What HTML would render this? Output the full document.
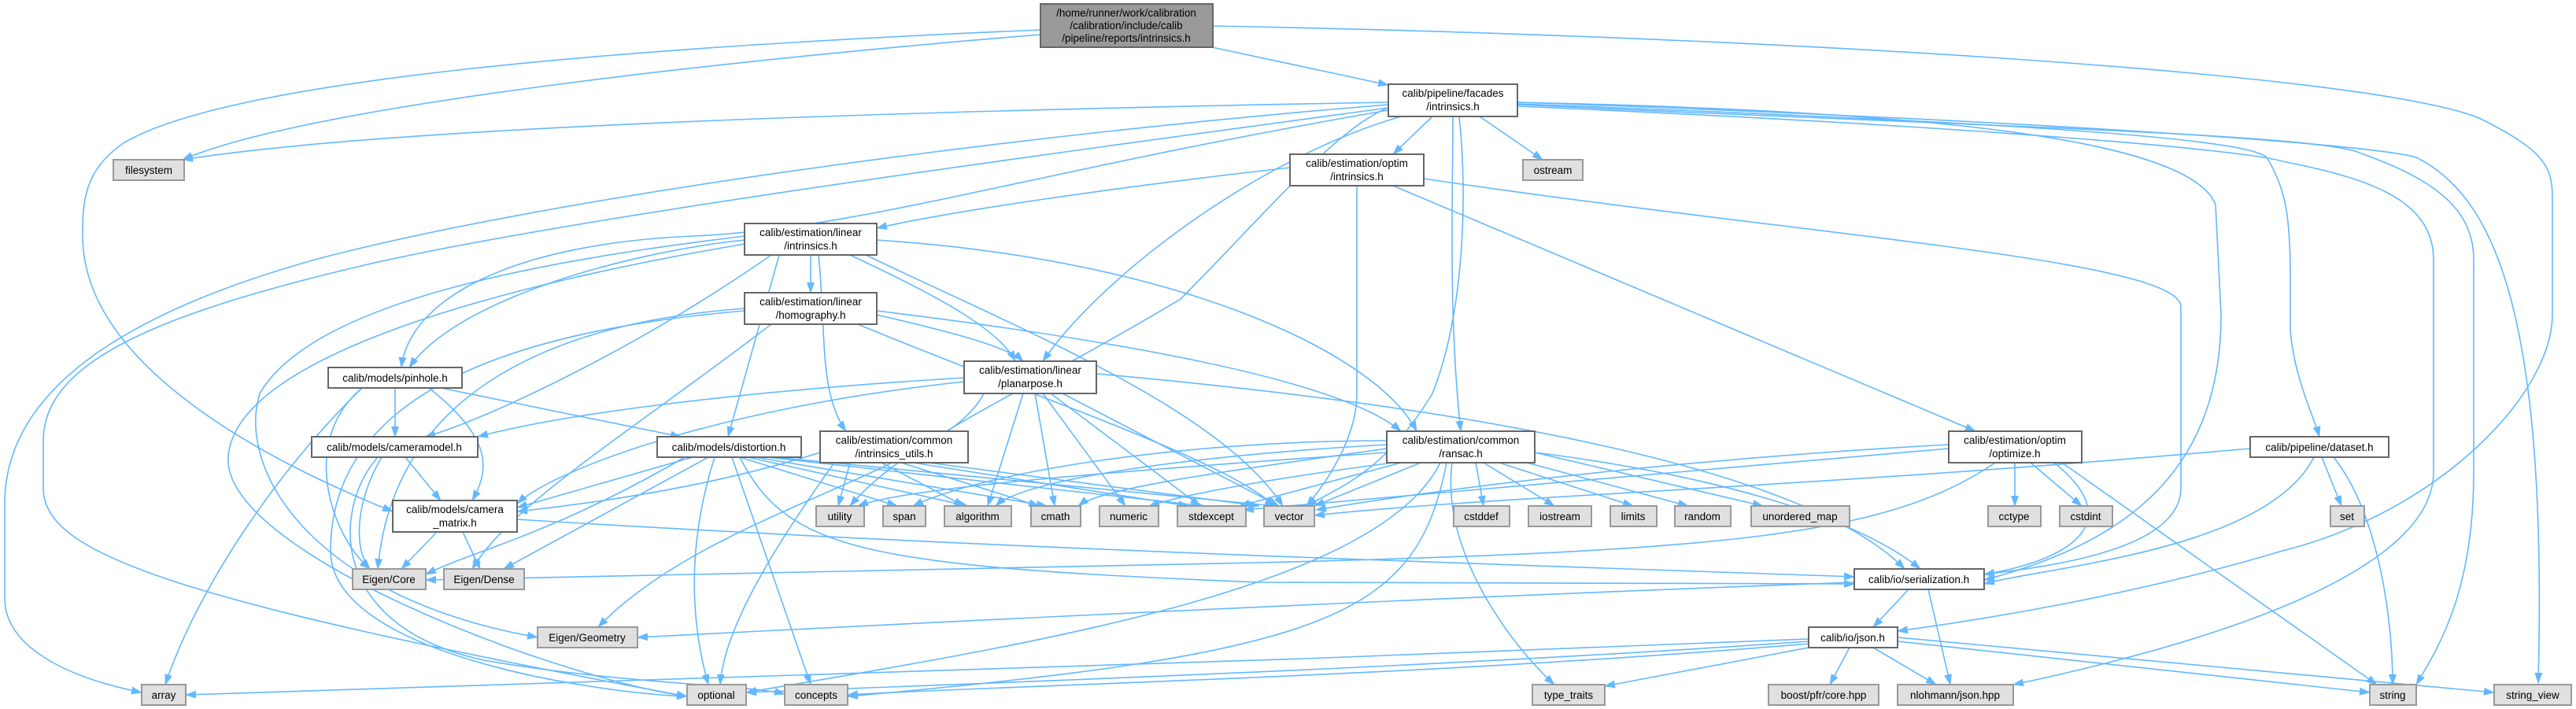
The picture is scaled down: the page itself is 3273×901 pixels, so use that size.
<!DOCTYPE html>
<html><head><meta charset="utf-8"><style>
html,body{margin:0;padding:0;background:#fff;}
svg{display:block;}
text{font-family:"Liberation Sans",sans-serif;font-size:13.5px;fill:#000;text-anchor:middle;}
.e{fill:none;stroke:#63b8ff;stroke-width:1.6;marker-end:url(#a);}
.n{fill:#fff;stroke:#666;stroke-width:2;}
.g{fill:#e0e0e0;stroke:#999;stroke-width:2;}
.r{fill:#999;stroke:#666;stroke-width:2;}
</style></head><body>
<svg width="3273" height="901" viewBox="0 0 3273 901" xmlns="http://www.w3.org/2000/svg">
<defs><marker id="a" markerUnits="userSpaceOnUse" markerWidth="14" markerHeight="10" refX="13" refY="5" orient="auto"><path d="M0,0 L14,5 L0,10 z" fill="#63b8ff"/></marker></defs>
<g>
<!-- root -->
<path class="e" d="M1322,44 C1000,70 400,130 232,203"/>
<path class="e" d="M1322,38 C800,60 300,100 160,180 C105,215 105,260 105,300 C105,450 300,570 499,650"/>
<path class="e" d="M1540,60 L1764,108"/>
<path class="e" d="M1541,33 C2200,45 3000,90 3150,150 C3230,190 3243,210 3243,250 L3243,400 C3243,500 3100,650 2900,700 C2700,760 2500,790 2411,802"/>
<!-- facades -->
<path class="e" d="M1764,130 C1200,140 500,160 232,203"/>
<path class="e" d="M1764,133 C1300,170 700,250 400,330 C150,400 6,500 6,640 L6,760 C6,820 80,860 180,880"/>
<path class="e" d="M1764,137 C1300,200 700,280 450,340 C200,400 55,460 55,560 L55,620 C55,700 200,760 873,885"/>
<path class="e" d="M1764,140 C1300,220 1100,290 880,300 C650,310 520,380 510,467"/>
<path class="e" d="M1780,148 C1600,200 1400,350 1325,459"/>
<path class="e" d="M1846,148 C1846,250 1840,400 1856,548"/>
<path class="e" d="M1854,148 C1865,250 1860,400 1820,500 C1760,600 1700,620 1660,643"/>
<path class="e" d="M1764,137 C1700,160 1600,280 1500,380 C1300,500 1150,560 1080,643"/>
<path class="e" d="M1880,148 L1960,203"/>
<path class="e" d="M1820,148 L1770,196"/>
<path class="e" d="M1928,130 C2400,140 2780,170 2815,260 L2822,400 C2822,600 2700,690 2521,737"/>
<path class="e" d="M1928,132 C2400,150 2850,170 2880,200 C2905,240 2910,280 2910,350 L2910,420 C2915,480 2940,530 2947,555"/>
<path class="e" d="M1928,135 C2500,160 2850,190 2900,205 C3000,225 3092,250 3092,330 L3092,600 C3092,750 2700,840 2558,870"/>
<path class="e" d="M1928,133 C2500,160 2950,170 3000,195 C3100,230 3143,270 3143,330 L3143,600 C3143,750 3100,820 3070,870"/>
<path class="e" d="M1928,130 C2500,150 3000,180 3070,200 C3170,250 3237,400 3225,868"/>
<!-- optim intrinsics -->
<path class="e" d="M1639,213 C1400,240 1200,270 1114,290"/>
<path class="e" d="M1724,236 L1724,500 C1724,560 1680,620 1660,643"/>
<path class="e" d="M1770,236 L2510,548"/>
<path class="e" d="M1809,227 C2300,300 2771,330 2771,390 L2771,620 C2771,700 2600,720 2521,730"/>
<!-- linear intrinsics -->
<path class="e" d="M1030,324 L1030,372"/>
<path class="e" d="M1080,324 C1200,380 1270,420 1290,459"/>
<path class="e" d="M1114,305 C1500,330 1750,450 1800,548"/>
<path class="e" d="M1100,324 C1300,420 1550,520 1630,643"/>
<path class="e" d="M1040,324 C1050,420 1040,500 1075,548"/>
<path class="e" d="M990,324 L925,555"/>
<path class="e" d="M980,324 C800,450 600,540 540,555"/>
<path class="e" d="M946,300 C700,330 400,380 330,500 C300,600 400,760 683,810"/>
<path class="e" d="M946,305 C800,320 580,380 520,467"/>
<path class="e" d="M946,310 C650,360 300,450 290,580 C280,700 700,860 873,885"/>
<!-- homography -->
<path class="e" d="M1114,400 C1200,420 1280,440 1300,459"/>
<path class="e" d="M1114,395 C1400,430 1700,480 1780,548"/>
<path class="e" d="M1090,412 C1300,500 1550,580 1620,643"/>
<path class="e" d="M946,392 C700,410 500,500 480,723"/>
<path class="e" d="M946,395 C650,420 420,500 420,700 C420,830 750,880 873,885"/>
<path class="e" d="M980,412 C800,550 650,640 600,723"/>
<!-- planarpose -->
<path class="e" d="M1225,480 C900,500 700,530 607,555"/>
<path class="e" d="M1225,485 C900,520 700,600 657,640"/>
<path class="e" d="M1250,500 C1200,600 900,650 760,797"/>
<path class="e" d="M1300,500 L1255,643"/>
<path class="e" d="M1315,500 L1340,643"/>
<path class="e" d="M1325,500 L1430,643"/>
<path class="e" d="M1335,500 L1525,643"/>
<path class="e" d="M1350,500 L1625,643"/>
<path class="e" d="M1393,475 C1900,520 2300,600 2420,723"/>
<!-- pinhole -->
<path class="e" d="M502,493 L502,555"/>
<path class="e" d="M545,493 C630,560 620,600 600,636"/>
<path class="e" d="M560,493 L865,555"/>
<path class="e" d="M460,493 C380,560 420,680 470,723"/>
<path class="e" d="M460,493 C350,600 250,750 210,870"/>
<!-- cameramodel -->
<path class="e" d="M515,581 L560,636"/>
<path class="e" d="M485,581 C450,640 450,700 470,723"/>
<path class="e" d="M480,581 C420,650 420,800 620,840 C800,870 950,870 997,882"/>
<!-- camera matrix -->
<path class="e" d="M555,676 L510,723"/>
<path class="e" d="M588,676 L610,723"/>
<path class="e" d="M657,660 C1300,700 2000,720 2356,733"/>
<!-- distortion -->
<path class="e" d="M880,581 L657,645"/>
<path class="e" d="M870,581 C700,680 600,700 541,730"/>
<path class="e" d="M900,581 L640,723"/>
<path class="e" d="M908,581 C870,700 880,800 900,870"/>
<path class="e" d="M930,581 L1030,870"/>
<path class="e" d="M950,581 L1230,643"/>
<path class="e" d="M960,581 L1330,643"/>
<path class="e" d="M975,581 L1530,643"/>
<path class="e" d="M985,581 L1620,643"/>
<path class="e" d="M940,581 L1140,643"/>
<path class="e" d="M940,581 C1000,700 1100,720 1600,740 L2356,742"/>
<!-- intrinsics utils -->
<path class="e" d="M1042,575 C900,620 750,640 657,650"/>
<path class="e" d="M1080,588 L1065,643"/>
<path class="e" d="M1120,588 L1225,643"/>
<path class="e" d="M1145,588 L1320,643"/>
<path class="e" d="M1180,588 L1600,643"/>
<path class="e" d="M1160,588 L1510,643"/>
<path class="e" d="M1060,588 C980,700 920,800 915,870"/>
<!-- ransac -->
<path class="e" d="M1762,560 C1500,560 1250,600 1160,643"/>
<path class="e" d="M1762,565 C1500,580 1300,610 1265,643"/>
<path class="e" d="M1762,570 C1550,600 1400,620 1370,643"/>
<path class="e" d="M1770,588 C1600,610 1500,630 1460,643"/>
<path class="e" d="M1780,588 L1575,643"/>
<path class="e" d="M1805,588 L1670,643"/>
<path class="e" d="M1762,575 C1400,600 1150,620 1090,643"/>
<path class="e" d="M1875,588 L1885,643"/>
<path class="e" d="M1885,588 L1975,643"/>
<path class="e" d="M1905,588 L2075,643"/>
<path class="e" d="M1940,588 L2145,643"/>
<path class="e" d="M1950,575 L2240,643"/>
<path class="e" d="M1845,588 C1830,700 1920,820 1975,870"/>
<path class="e" d="M1830,588 C1750,750 1300,820 948,880"/>
<path class="e" d="M1838,588 C1800,780 1700,830 1077,885"/>
<path class="e" d="M1950,575 C2150,600 2350,650 2440,723"/>
<!-- optimize -->
<path class="e" d="M2476,565 C2200,580 1900,610 1672,648"/>
<path class="e" d="M2476,570 C2100,600 1800,630 1580,648"/>
<path class="e" d="M2560,588 L2560,643"/>
<path class="e" d="M2580,588 L2645,643"/>
<path class="e" d="M2610,588 C2700,660 2640,710 2521,730"/>
<path class="e" d="M2620,588 L3020,870"/>
<path class="e" d="M2535,588 C2400,680 2200,700 1600,715 L541,737"/>
<!-- dataset -->
<path class="e" d="M2859,570 C2300,620 1900,630 1670,655"/>
<path class="e" d="M2940,581 C2880,700 2600,720 2521,742"/>
<path class="e" d="M2950,581 L2975,643"/>
<path class="e" d="M2965,581 C3020,650 3040,780 3040,870"/>
<!-- serialization / json -->
<path class="e" d="M2356,740 C1800,760 1200,790 810,810"/>
<path class="e" d="M2425,749 L2380,797"/>
<path class="e" d="M2450,749 L2478,870"/>
<path class="e" d="M2350,823 L2325,870"/>
<path class="e" d="M2380,823 L2460,870"/>
<path class="e" d="M2411,815 L3011,880"/>
<path class="e" d="M2411,810 L3169,880"/>
<path class="e" d="M2298,812 C1600,840 800,870 236,883"/>
<path class="e" d="M2298,815 C1800,850 1200,870 948,880"/>
<path class="e" d="M2298,818 C1800,860 1300,870 1077,883"/>
<path class="e" d="M2298,823 L2039,872"/>
</g>
<!-- nodes -->
<rect class="r" x="1322" y="5" width="219" height="55"/>
<text x="1431" y="21">/home/runner/work/calibration</text><text x="1431" y="37">/calibration/include/calib</text><text x="1431" y="53">/pipeline/reports/intrinsics.h</text>

<rect class="n" x="1764" y="107" width="164" height="41"/><text x="1846" y="123">calib/pipeline/facades</text><text x="1846" y="140">/intrinsics.h</text>
<rect class="n" x="1639" y="196" width="170" height="40"/><text x="1724" y="212">calib/estimation/optim</text><text x="1724" y="229">/intrinsics.h</text>
<rect class="n" x="946" y="284" width="168" height="40"/><text x="1030" y="300">calib/estimation/linear</text><text x="1030" y="317">/intrinsics.h</text>
<rect class="n" x="946" y="372" width="168" height="40"/><text x="1030" y="388">calib/estimation/linear</text><text x="1030" y="405">/homography.h</text>
<rect class="n" x="1225" y="459" width="168" height="41"/><text x="1309" y="475">calib/estimation/linear</text><text x="1309" y="492">/planarpose.h</text>
<rect class="n" x="417" y="467" width="170" height="26"/><text x="502" y="485">calib/models/pinhole.h</text>
<rect class="n" x="396" y="555" width="211" height="26"/><text x="501" y="573">calib/models/cameramodel.h</text>
<rect class="n" x="835" y="555" width="183" height="26"/><text x="926" y="573">calib/models/distortion.h</text>
<rect class="n" x="1042" y="548" width="188" height="40"/><text x="1136" y="564">calib/estimation/common</text><text x="1136" y="581">/intrinsics_utils.h</text>
<rect class="n" x="1762" y="548" width="188" height="40"/><text x="1856" y="564">calib/estimation/common</text><text x="1856" y="581">/ransac.h</text>
<rect class="n" x="2476" y="548" width="169" height="40"/><text x="2560" y="564">calib/estimation/optim</text><text x="2560" y="581">/optimize.h</text>
<rect class="n" x="2859" y="555" width="176" height="26"/><text x="2947" y="573">calib/pipeline/dataset.h</text>
<rect class="n" x="499" y="636" width="158" height="40"/><text x="578" y="652">calib/models/camera</text><text x="578" y="669">_matrix.h</text>
<rect class="n" x="2356" y="723" width="165" height="26"/><text x="2438" y="741">calib/io/serialization.h</text>
<rect class="n" x="2298" y="797" width="113" height="26"/><text x="2354" y="815">calib/io/json.h</text>

<rect class="g" x="144" y="203" width="90" height="26"/><text x="189" y="221">filesystem</text>
<rect class="g" x="1935" y="203" width="76" height="26"/><text x="1973" y="221">ostream</text>
<rect class="g" x="1037" y="643" width="61" height="26"/><text x="1067" y="661">utility</text>
<rect class="g" x="1122" y="643" width="54" height="26"/><text x="1149" y="661">span</text>
<rect class="g" x="1200" y="643" width="85" height="26"/><text x="1242" y="661">algorithm</text>
<rect class="g" x="1310" y="643" width="63" height="26"/><text x="1341" y="661">cmath</text>
<rect class="g" x="1397" y="643" width="75" height="26"/><text x="1434" y="661">numeric</text>
<rect class="g" x="1496" y="643" width="87" height="26"/><text x="1539" y="661">stdexcept</text>
<rect class="g" x="1606" y="643" width="64" height="26"/><text x="1638" y="661">vector</text>
<rect class="g" x="1847" y="643" width="71" height="26"/><text x="1882" y="661">cstddef</text>
<rect class="g" x="1942" y="643" width="80" height="26"/><text x="1982" y="661">iostream</text>
<rect class="g" x="2046" y="643" width="59" height="26"/><text x="2075" y="661">limits</text>
<rect class="g" x="2128" y="643" width="71" height="26"/><text x="2163" y="661">random</text>
<rect class="g" x="2225" y="643" width="125" height="26"/><text x="2287" y="661">unordered_map</text>
<rect class="g" x="2526" y="643" width="67" height="26"/><text x="2559" y="661">cctype</text>
<rect class="g" x="2617" y="643" width="67" height="26"/><text x="2650" y="661">cstdint</text>
<rect class="g" x="2961" y="643" width="43" height="26"/><text x="2982" y="661">set</text>
<rect class="g" x="448" y="723" width="93" height="26"/><text x="494" y="741">Eigen/Core</text>
<rect class="g" x="564" y="723" width="102" height="26"/><text x="615" y="741">Eigen/Dense</text>
<rect class="g" x="683" y="797" width="127" height="26"/><text x="746" y="815">Eigen/Geometry</text>
<rect class="g" x="180" y="870" width="56" height="26"/><text x="208" y="888">array</text>
<rect class="g" x="873" y="870" width="75" height="26"/><text x="910" y="888">optional</text>
<rect class="g" x="997" y="870" width="80" height="26"/><text x="1037" y="888">concepts</text>
<rect class="g" x="1947" y="870" width="92" height="26"/><text x="1993" y="888">type_traits</text>
<rect class="g" x="2247" y="870" width="140" height="26"/><text x="2317" y="888">boost/pfr/core.hpp</text>
<rect class="g" x="2411" y="870" width="147" height="26"/><text x="2484" y="888">nlohmann/json.hpp</text>
<rect class="g" x="3011" y="870" width="59" height="26"/><text x="3040" y="888">string</text>
<rect class="g" x="3169" y="870" width="98" height="26"/><text x="3218" y="888">string_view</text>
</svg>
</body></html>
